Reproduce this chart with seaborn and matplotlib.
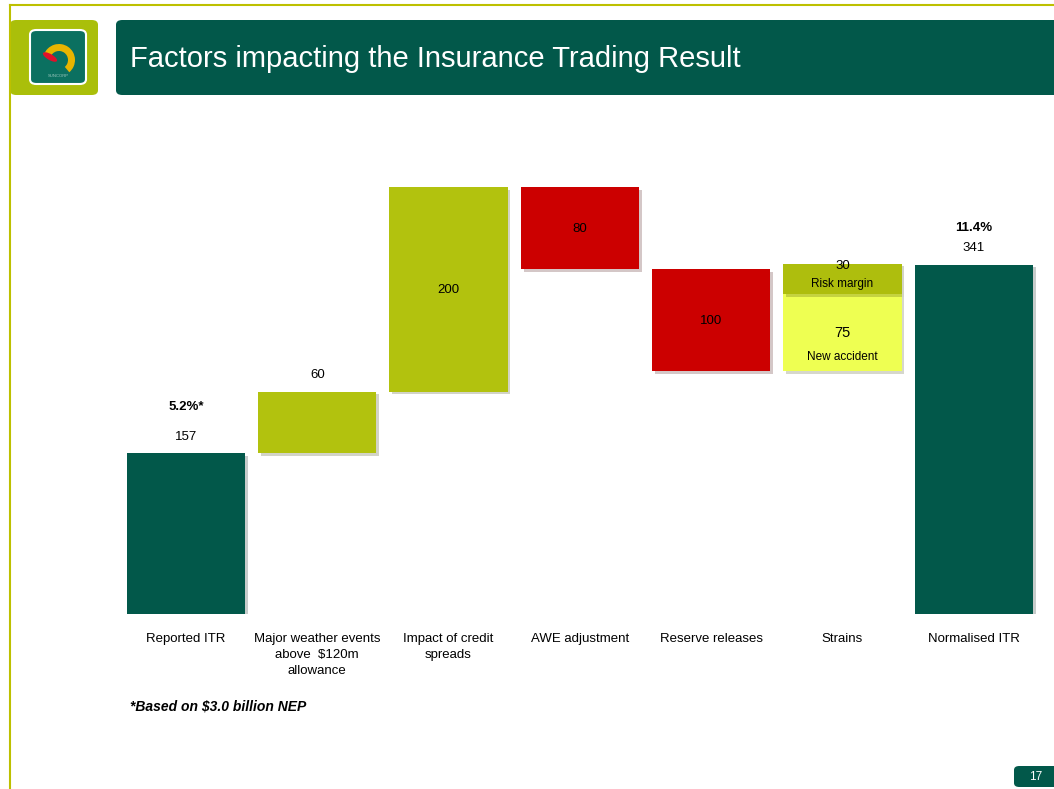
import pandas as pd
import seaborn as sns
import matplotlib.pyplot as plt
from matplotlib.patches import FancyBboxPatch, Wedge, Ellipse
import matplotlib.patheffects as pe

# data
categories = ["Reported ITR", "Major weather events above  $120m allowance",
              "Impact of credit spreads", "AWE adjustment", "Reserve releases",
              "Strains", "Normalised ITR"]
tick_labels = ["Reported ITR", "Major weather events\nabove  $120m\nallowance",
               "Impact of credit\nspreads", "AWE adjustment", "Reserve releases",
               "Strains", "Normalised ITR"]
changes = [157, 60, 200, -80, -100, 75, 341]
strain_parts = ["New accident", "Risk margin"]
strain_values = [75, 30]
margin_labels = {"Reported ITR": "5.2%*", "Normalised ITR": "11.4%"}

DARK = "#02584A"
OLIVE = "#B2C20E"
RED = "#CC0000"
PALE = "#EEFF52"
BORDER = "#BDC000"


def build_frame():
    bottoms, heights = [], []
    level = 0
    for i, c in enumerate(changes):
        if i == 0 or i == len(changes) - 1:
            bottoms.append(0)
            heights.append(c)
            level = c
        elif c >= 0:
            bottoms.append(level)
            heights.append(c)
            level += c
        else:
            level += c
            bottoms.append(level)
            heights.append(-c)
    return pd.DataFrame({"category": categories, "bottom": bottoms, "height": heights})


def draw_frame(fig):
    fig.add_artist(plt.Line2D([9.5 / 1054, 9.5 / 1054], [0, 1 - 5 / 789], color=BORDER, lw=1.5))
    fig.add_artist(plt.Line2D([9.5 / 1054, 1], [1 - 5 / 789, 1 - 5 / 789], color=BORDER, lw=1.5))
    fig.add_artist(FancyBboxPatch((10 / 1054, 1 - 95 / 789), 88 / 1054, 75 / 789,
                                  boxstyle="round,pad=0,rounding_size=0.006",
                                  fc="#AABF0A", ec="none", transform=fig.transFigure))
    fig.add_artist(FancyBboxPatch((30 / 1054, 1 - 84 / 789), 56 / 1054, 54 / 789,
                                  boxstyle="round,pad=0,rounding_size=0.006",
                                  fc="#0B7060", ec="white", lw=1.5, transform=fig.transFigure))
    # logo mark
    lax = fig.add_axes([30 / 1054, 1 - 84 / 789, 56 / 1054, 54 / 789])
    lax.set_zorder(5)
    lax.patch.set_alpha(0)
    lax.set_xlim(0, 56)
    lax.set_ylim(0, 54)
    lax.axis("off")
    lax.add_patch(Wedge((29, 24), 16, -50, 160, width=7, fc="#E8B400", ec="none"))
    lax.add_patch(Ellipse((20, 27), 16, 6, angle=-30, fc="#E0102A", ec="none"))
    lax.text(28, 8, "SUNCORP", color="#9FC9C0", fontsize=3, ha="center", va="center")

    fig.add_artist(FancyBboxPatch((116 / 1054, 1 - 95 / 789), 950 / 1054, 75 / 789,
                                  boxstyle="round,pad=0,rounding_size=0.006",
                                  fc=DARK, ec="none", transform=fig.transFigure))
    fig.text(130 / 1054, 1 - 59 / 789, "Factors impacting the Insurance Trading Result",
             color="white", fontsize=21, va="center", ha="left")
    fig.add_artist(FancyBboxPatch((1014 / 1054, 1 - 787 / 789), 50 / 1054, 21 / 789,
                                  boxstyle="round,pad=0,rounding_size=0.005",
                                  fc=DARK, ec="none", transform=fig.transFigure))
    fig.text(1036 / 1054, 1 - 777 / 789, "17", color="white", fontsize=8.5, ha="center", va="center")
    fig.text(130 / 1054, 1 - 707 / 789, "*Based on $3.0 billion NEP", fontsize=10,
             fontweight="bold", fontstyle="italic", ha="left", va="center")


def main():
    df = build_frame()
    fig = plt.figure(figsize=(10.54, 7.89), dpi=100)
    plt.rcParams["font.family"] = ["Liberation Sans", "DejaVu Sans"]
    draw_frame(fig)

    ax = fig.add_axes([120.3 / 1054, 175 / 789, 919.2 / 1054, 461 / 789])
    ax.patch.set_alpha(0)
    shadow = [pe.SimplePatchShadow(offset=(2, -2), alpha=0.22), pe.Normal()]

    sns.barplot(data=df, x="category", y="height", bottom=df["bottom"].values,
                order=categories, width=0.9, ax=ax, color=DARK, saturation=1)
    colors = [DARK, OLIVE, OLIVE, RED, RED, PALE, DARK]
    for p, c in zip(ax.patches, colors):
        p.set_facecolor(c)
        p.set_edgecolor("none")
        p.set_path_effects(shadow)

    # risk margin on top of strains
    strain_bottom = df.loc[df.category == "Strains", "bottom"].iloc[0] + strain_values[0]
    n_before = len(ax.patches)
    rm = pd.DataFrame({"category": ["Strains"], "height": [strain_values[1]]})
    sns.barplot(data=rm, x="category", y="height", bottom=[strain_bottom], order=categories,
                width=0.9, ax=ax, color=OLIVE, saturation=1)
    for p in ax.patches[n_before:]:
        p.set_facecolor("#AEBE0D")
        p.set_edgecolor("none")
        p.set_path_effects(shadow)

    # labels
    for i, row in df.iterrows():
        top = row["bottom"] + row["height"]
        cat = row["category"]
        if i in (0, 1, 6):
            ax.text(i, top + 16, str(row["height"]), ha="center", va="center", fontsize=9.5)
            if cat in margin_labels:
                off = 45 if i == 0 else 36
                ax.text(i, top + off, margin_labels[cat], ha="center", va="center",
                        fontsize=9.5, fontweight="bold")
        elif cat == "Strains":
            ax.text(i, row["bottom"] + 37, str(strain_values[0]), ha="center", va="center", fontsize=10.5)
            ax.text(i, row["bottom"] + 14, strain_parts[0], ha="center", va="center", fontsize=8.5)
            ax.text(i, strain_bottom + 28, str(strain_values[1]), ha="center", va="center", fontsize=9.5)
            ax.text(i, strain_bottom + 10, strain_parts[1], ha="center", va="center", fontsize=8.5)
        else:
            ax.text(i, row["bottom"] + row["height"] / 2 - 1, str(abs(changes[i])),
                    ha="center", va="center", fontsize=9.5)

    ax.set_ylim(0, 450)
    ax.set_xlim(-0.5, 6.5)
    ax.set_xticks(range(len(categories)))
    ax.set_xticklabels(tick_labels, fontsize=9.5, linespacing=1.4)
    ax.tick_params(axis="x", length=0, pad=14)
    ax.set_yticks([])
    ax.set_xlabel("")
    ax.set_ylabel("")
    for s in ax.spines.values():
        s.set_visible(False)

    fig.savefig("out.png", dpi=100)


if __name__ == '__main__':
    main()
